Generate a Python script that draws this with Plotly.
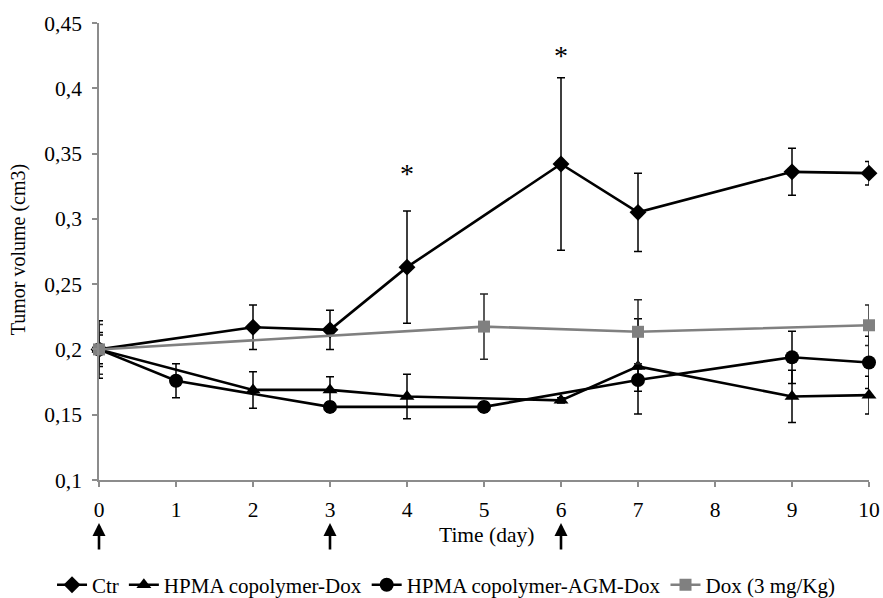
import plotly.graph_objects as go

# Tumour volume (cm3) per group, mean and error, by day
ctr_days = [0, 2, 3, 4, 6, 7, 9, 10]
ctr_vals = [0.200, 0.217, 0.215, 0.263, 0.342, 0.305, 0.336, 0.335]
ctr_err = [0.022, 0.017, 0.015, 0.043, 0.066, 0.030, 0.018, 0.009]

hpma_days = [0, 2, 3, 4, 6, 7, 9, 10]
hpma_vals = [0.200, 0.169, 0.169, 0.164, 0.161, 0.187, 0.164, 0.165]
hpma_err = [0.013, 0.014, 0.010, 0.017, 0.002, 0.0365, 0.020, 0.0145]

agm_days = [0, 1, 3, 5, 7, 9, 10]
agm_vals = [0.200, 0.176, 0.156, 0.156, 0.1766, 0.194, 0.190]
agm_err = [0.011, 0.013, 0.004, 0.004, 0.0086, 0.020, 0.020]

dox_days = [0, 5, 7, 10]
dox_vals = [0.200, 0.2175, 0.2135, 0.2185]
dox_err = [0.019, 0.025, 0.0245, 0.0155]

series_names = ["Ctr", "HPMA copolymer-Dox", "HPMA copolymer-AGM-Dox", "Dox (3 mg/Kg)"]

# Days of treatment (arrows) and significant points (asterisks)
dose_days = [0, 3, 6]
star_days = [4, 6]
star_levels = [0.335, 0.425]

x_ticks = list(range(0, 11))
y_ticks = [0.10, 0.15, 0.20, 0.25, 0.30, 0.35, 0.40, 0.45]
y_tick_text = ["0,1", "0,15", "0,2", "0,25", "0,3", "0,35", "0,4", "0,45"]

FONT = "Liberation Serif, Times New Roman, serif"
AXIS_GREY = "#8c8c8c"
TXT = 21.5

fig = go.Figure()


def add_series(days, vals, err, name, symbol, size, line_color, err_color):
    fig.add_trace(go.Scatter(
        x=days, y=vals, name=name, mode="lines+markers",
        line=dict(color=line_color, width=2.6),
        marker=dict(symbol=symbol, size=size, color=line_color),
        error_y=dict(type="data", array=err, visible=True,
                     color=err_color, thickness=1.5, width=4),
        cliponaxis=False,
    ))


add_series(ctr_days, ctr_vals, ctr_err, series_names[0], "diamond", 13, "#000000", "#000000")
add_series(hpma_days, hpma_vals, hpma_err, series_names[1], "triangle-up", 13, "#000000", "#000000")
add_series(agm_days, agm_vals, agm_err, series_names[2], "circle", 14, "#000000", "#000000")
add_series(dox_days, dox_vals, dox_err, series_names[3], "square", 12, "#808080", "#262626")

annotations = []
for d, lvl in zip(star_days, star_levels):
    annotations.append(dict(x=d, y=lvl, xref="x", yref="y", text="*", showarrow=False,
                            font=dict(family=FONT, size=28, color="#000000"),
                            yanchor="middle", xanchor="center"))

for d in dose_days:
    annotations.append(dict(x=d, y=-0.094, xref="x", yref="paper", text="",
                            showarrow=True, arrowhead=2, arrowsize=1, arrowwidth=2.6,
                            arrowcolor="#000000", ax=0, ay=28, standoff=0))

annotations.append(dict(x=0.503, y=-0.121, xref="paper", yref="paper", text="Time (day)",
                        showarrow=False, yanchor="middle", xanchor="center",
                        font=dict(family=FONT, size=TXT, color="#000000")))
annotations.append(dict(x=-0.105, y=0.503, xref="paper", yref="paper",
                        text="Tumor volume (cm3)", textangle=-90, showarrow=False,
                        yanchor="middle", xanchor="center",
                        font=dict(family=FONT, size=20, color="#000000")))

fig.update_layout(
    width=883, height=598,
    margin=dict(l=99, r=14, t=23, b=118, autoexpand=False),
    paper_bgcolor="white", plot_bgcolor="white",
    font=dict(family=FONT, size=TXT, color="#000000"),
    showlegend=True,
    legend=dict(orientation="h", x=-0.061, xanchor="left",
                y=-0.23, yanchor="middle", font=dict(family=FONT, size=21),
                itemwidth=30, tracegroupgap=0, bgcolor="rgba(0,0,0,0)"),
    annotations=annotations,
    xaxis=dict(range=[0, 10], tickvals=x_ticks, showgrid=False, zeroline=False,
               showline=True, linecolor=AXIS_GREY, linewidth=1.5,
               ticks="outside", ticklen=5, tickcolor=AXIS_GREY, tickwidth=1.5,
               ticklabelstandoff=4,
               tickfont=dict(family=FONT, size=TXT)),
    yaxis=dict(range=[0.1, 0.45], tickvals=y_ticks, ticktext=y_tick_text,
               showgrid=False, zeroline=False,
               showline=True, linecolor=AXIS_GREY, linewidth=1.5,
               ticks="outside", ticklen=5, tickcolor=AXIS_GREY, tickwidth=1.5,
               ticklabelstandoff=6,
               tickfont=dict(family=FONT, size=TXT)),
)

fig.write_html("out.html")
